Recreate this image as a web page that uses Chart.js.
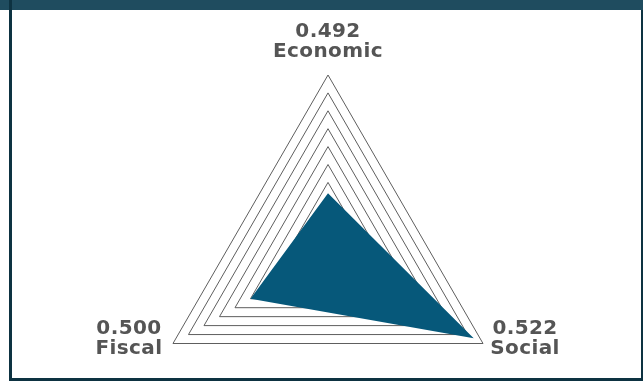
<!DOCTYPE html>
<html>
<head>
<meta charset="utf-8">
<script src="https://cdn.jsdelivr.net/npm/chart.js@4"></script>
<style>
  html, body { margin: 0; padding: 0; width: 643px; height: 385px; overflow: hidden; background: #ffffff; }
  .bar-top { position: absolute; left: 0; top: 0; width: 643px; height: 10px; background: #1f4c5f; }
  .edge { position: absolute; background: #0d3241; }
  #radar { position: absolute; left: 0; top: 0; }
</style>
</head>
<body>
<div class="bar-top"></div>
<div class="edge" style="left:9px; top:0; width:3px; height:381px;"></div>
<div class="edge" style="left:9px; top:378px; width:634px; height:3px;"></div>
<div class="edge" style="left:641px; top:10px; width:2px; height:371px;"></div>
<canvas id="radar" width="643" height="440"></canvas>
<script>
// Index dimensions and their scores
const dimensions = ['Economic', 'Social', 'Fiscal'];
const scores = [0.492, 0.522, 0.500];

// Radial scale range and ring step
const scaleMin = 0.475;
const scaleMax = 0.525;
const scaleStep = 0.005;

const labelFont = 'bold 20px "DejaVu Sans", sans-serif';
const labelColor = '#555555';

// Two-line labels (score over name) placed beside each corner of the outer ring
const cornerLabels = {
  id: 'cornerLabels',
  afterDraw(chart) {
    const scale = chart.scales.r;
    const ctx = chart.ctx;
    ctx.save();
    ctx.font = labelFont;
    ctx.fillStyle = labelColor;
    ctx.textAlign = 'center';
    ctx.textBaseline = 'alphabetic';
    if ('letterSpacing' in ctx) ctx.letterSpacing = '0.4px';
    dimensions.forEach((name, i) => {
      const p = scale.getPointPosition(i, scale.drawingArea);
      let x, y1;
      if (i === 0) { x = p.x; y1 = p.y - 38; }
      else if (i === 1) { x = p.x + 42; y1 = p.y - 10; }
      else { x = p.x - 44; y1 = p.y - 10; }
      ctx.fillText(scores[i].toFixed(3), x, y1);
      ctx.fillText(name, x, y1 + 20);
    });
    ctx.restore();
  }
};

new Chart(document.getElementById('radar'), {
  type: 'radar',
  data: {
    labels: dimensions,
    datasets: [{
      data: scores,
      backgroundColor: '#06587a',
      borderWidth: 0,
      pointRadius: 0,
      fill: true
    }]
  },
  options: {
    responsive: false,
    animation: false,
    devicePixelRatio: 1,
    layout: { padding: { top: 75, bottom: 7, left: 149, right: 136 } },
    plugins: { legend: { display: false }, tooltip: { enabled: false } },
    scales: {
      r: {
        min: scaleMin,
        max: scaleMax,
        ticks: { stepSize: scaleStep, display: false },
        grid: { color: '#5e5e5e', lineWidth: 1 },
        angleLines: { display: false },
        pointLabels: { display: false }
      }
    }
  },
  plugins: [cornerLabels]
});
</script>
</body>
</html>
